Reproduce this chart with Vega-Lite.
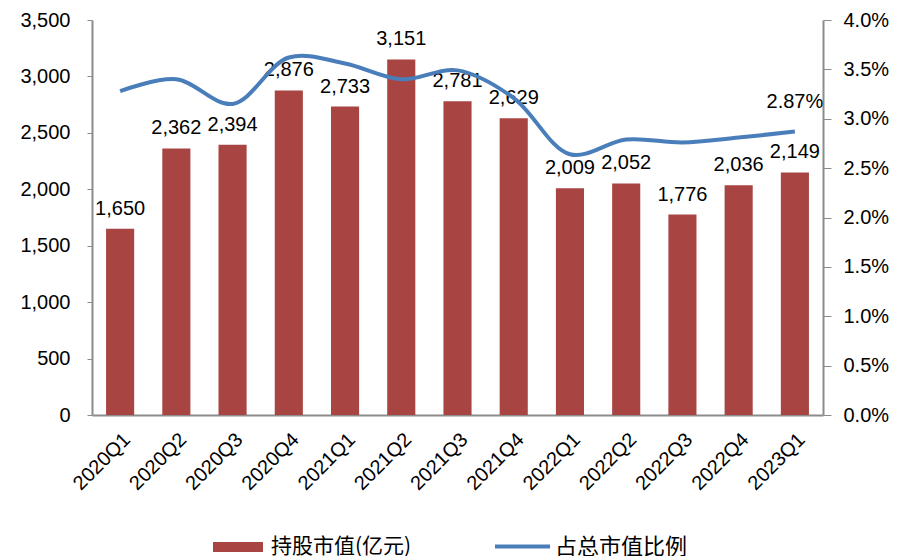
{
  "$schema": "https://vega.github.io/schema/vega-lite/v6.json",
  "width": 731,
  "height": 395,
  "autosize": {"type": "none"},
  "padding": {"left": 92, "top": 20, "right": 75, "bottom": 141},
  "background": "white",
  "config": {
    "view": {"stroke": null},
    "font": "Liberation Sans",
    "axis": {"labelFont": "Liberation Sans", "labelColor": "#000000", "domainColor": "#8c8c8c", "tickColor": "#8c8c8c", "grid": false, "title": null}
  },
  "data": {
    "values": [
      {"q": "2020Q1", "mv": 1650, "pct": 0.0328},
      {"q": "2020Q2", "mv": 2362, "pct": 0.0340},
      {"q": "2020Q3", "mv": 2394, "pct": 0.0315},
      {"q": "2020Q4", "mv": 2876, "pct": 0.0362},
      {"q": "2021Q1", "mv": 2733, "pct": 0.0356},
      {"q": "2021Q2", "mv": 3151, "pct": 0.0340},
      {"q": "2021Q3", "mv": 2781, "pct": 0.0349},
      {"q": "2021Q4", "mv": 2629, "pct": 0.0321},
      {"q": "2022Q1", "mv": 2009, "pct": 0.0264},
      {"q": "2022Q2", "mv": 2052, "pct": 0.0279},
      {"q": "2022Q3", "mv": 1776, "pct": 0.0276},
      {"q": "2022Q4", "mv": 2036, "pct": 0.0281},
      {"q": "2023Q1", "mv": 2149, "pct": 0.0287}
    ]
  },
  "encoding": {
    "x": {
      "field": "q", "type": "nominal", "sort": null,
      "scale": {"paddingInner": 0.5, "paddingOuter": 0.25},
      "axis": {"labelAngle": -45, "labelFontSize": 20, "ticks": false, "labelPadding": 14, "domainWidth": 2}
    }
  },
  "layer": [
    {
      "encoding": {
        "y": {"field": "mv", "type": "quantitative", "scale": {"domain": [0, 3500]},
          "axis": {"values": [0,500,1000,1500,2000,2500,3000,3500], "format": ",.0f", "labelFontSize": 20, "tickSize": 5, "labelPadding": 17, "domainWidth": 2, "orient": "left"}}
      },
      "layer": [
        {
          "mark": {"type": "bar"},
          "encoding": {
            "fill": {"datum": "持股市值(亿元)", "type": "nominal",
              "scale": {"domain": ["持股市值(亿元)"], "range": ["#A84543"]},
              "legend": {"orient": "none", "legendX": 121, "legendY": 502, "title": null,
                "symbolType": "M-1,-0.2H1V0.2H-1Z", "symbolSize": 2500, "symbolStrokeWidth": 0,
                "labelFont": "Noto Sans CJK SC", "labelFontSize": 21, "labelColor": "#000000", "labelOffset": 8}}
          }
        },
        {
          "mark": {"type": "text", "baseline": "alphabetic", "dy": -14, "fontSize": 20, "color": "#000000", "font": "Liberation Sans"},
          "encoding": {
            "text": {"field": "mv", "type": "quantitative", "format": ","}
          }
        }
      ]
    },
    {
      "encoding": {
        "y": {"field": "pct", "type": "quantitative", "scale": {"domain": [0, 0.04]},
          "axis": {"orient": "right", "values": [0,0.005,0.01,0.015,0.02,0.025,0.03,0.035,0.04], "format": ".1%", "labelFontSize": 20, "tickSize": 8, "labelPadding": 12, "domainWidth": 2}}
      },
      "layer": [
        {
          "mark": {"type": "line", "interpolate": "catmull-rom", "strokeWidth": 4},
          "encoding": {
            "stroke": {"datum": "占总市值比例", "type": "nominal",
              "scale": {"domain": ["占总市值比例"], "range": ["#4A7EBB"]},
              "legend": {"orient": "none", "legendX": 401, "legendY": 497, "title": null,
                "symbolType": "stroke", "symbolSize": 3025, "symbolStrokeWidth": 4,
                "labelFont": "Noto Sans CJK SC", "labelFontSize": 22, "labelColor": "#000000", "labelOffset": 3}}
          }
        },
        {
          "transform": [{"filter": "datum.q === '2023Q1'"}],
          "mark": {"type": "text", "baseline": "alphabetic", "dy": -24, "fontSize": 20, "color": "#000000", "font": "Liberation Sans"},
          "encoding": {
            "text": {"field": "pct", "type": "quantitative", "format": ".2%"}
          }
        }
      ]
    }
  ],
  "resolve": {"scale": {"y": "independent", "fill": "independent", "stroke": "independent"}}
}
